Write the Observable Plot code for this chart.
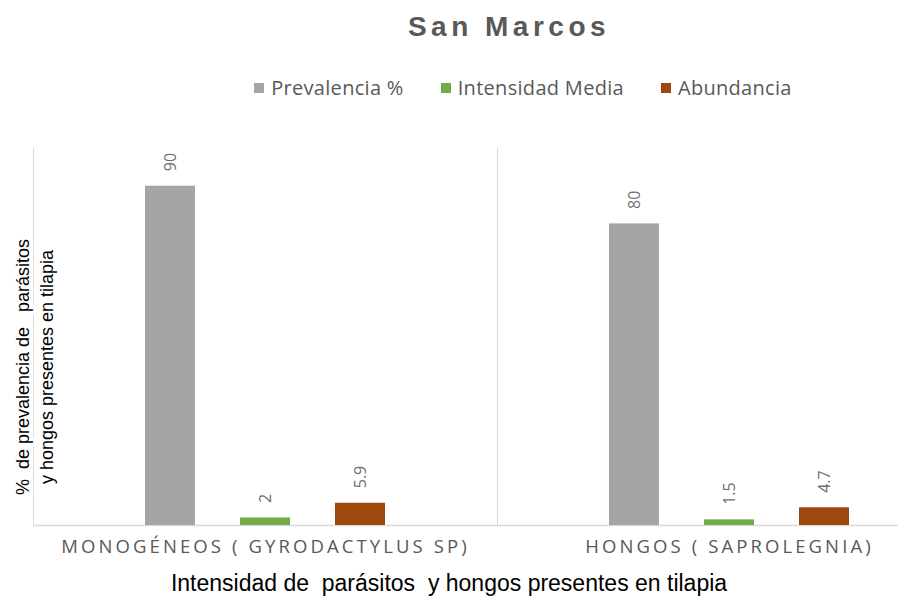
<!DOCTYPE html>
<html>
<head>
<meta charset="utf-8">
<script src="https://cdn.jsdelivr.net/npm/d3@7"></script>
<script src="https://cdn.jsdelivr.net/npm/@observablehq/plot@0.6"></script>
<style>
  html, body { margin: 0; padding: 0; background: #fff; }
  body { width: 898px; height: 598px; overflow: hidden; font-family: "Open Sans", "DejaVu Sans", sans-serif; }
  #header { height: 115px; position: relative; }
  #title { position: absolute; top: 9px; left: 0; width: 898px; padding-left: 120px; box-sizing: border-box;
    text-align: center; font: bold 28px "Liberation Sans", Arial, sans-serif; line-height: 36px; letter-spacing: 4.5px; color: #595959; }
  #legend { position: absolute; top: 76px; left: 0; width: 898px; padding-left: 148px; box-sizing: border-box;
    display: flex; justify-content: center; gap: 37px; font-size: 20px; letter-spacing: 0.3px; color: #595959; line-height: 24px; }
  .item { display: flex; align-items: center; gap: 7px; }
  .sw { width: 10px; height: 10px; display: inline-block; }
  #chart { height: 448px; overflow: hidden; }
  #caption { height: 35px; text-align: center; white-space: pre; color: #000;
    font: 23px "Liberation Sans", Arial, sans-serif; line-height: 40px; }
</style>
</head>
<body>
<div id="header">
  <div id="title">San Marcos</div>
  <div id="legend"></div>
</div>
<div id="chart"></div>
<div id="caption">Intensidad de  parásitos  y hongos presentes en tilapia</div>
<script>
const categories = ["MONOGÉNEOS ( GYRODACTYLUS SP)", "HONGOS ( SAPROLEGNIA)"];
const series = ["Prevalencia %", "Intensidad Media", "Abundancia"];
const prevalencia = [90, 80];
const intensidadMedia = [2, 1.5];
const abundancia = [5.9, 4.7];
const colors = ["#A5A5A5", "#70AD47", "#9E480E"];
const yLabel = "%  de prevalencia de   parásitos\ny hongos presentes en tilapia";

const valuesBySeries = [prevalencia, intensidadMedia, abundancia];
const rows = [];
categories.forEach((c, i) => series.forEach((s, j) => rows.push({cat: c, series: s, value: valuesBySeries[j][i]})));

// legend
const legend = document.getElementById("legend");
series.forEach((s, j) => {
  const it = document.createElement("div");
  it.className = "item";
  const sw = document.createElement("span");
  sw.className = "sw";
  sw.style.background = colors[j];
  const tx = document.createElement("span");
  tx.textContent = s;
  it.appendChild(sw); it.appendChild(tx);
  legend.appendChild(it);
});

const plot = Plot.plot({
  width: 898,
  height: 448,
  marginLeft: 33,
  marginRight: 0,
  marginTop: 33,
  marginBottom: 38,
  style: {background: "transparent", overflow: "hidden"},
  fx: {domain: categories, range: [33, 961], paddingInner: 0, paddingOuter: 0, axis: null},
  x: {domain: series, paddingInner: 0.476, paddingOuter: 1.167, axis: null},
  y: {domain: [0, 100], axis: null},
  color: {domain: series, range: colors},
  marks: [
    Plot.frame({anchor: "left", stroke: "#d9d9d9"}),
    Plot.ruleY([0], {stroke: "#d9d9d9", strokeWidth: 1.5}),
    Plot.barY(rows, {fx: "cat", x: "series", y: "value", fill: "series"}),
    Plot.text(rows, {fx: "cat", x: "series", y: "value", text: d => String(d.value),
      rotate: -90, textAnchor: "start", dy: -15, fill: "#707070", fontSize: 16,
      fontFamily: "Open Sans, DejaVu Sans, sans-serif"}),
    Plot.text(categories, {fx: d => d, text: d => d, frameAnchor: "bottom", dy: 27,
      fill: "#595959", fontSize: 18.5, fontFamily: "Open Sans, DejaVu Sans, sans-serif"}),
    Plot.text([yLabel], {fx: () => categories[0], text: d => d, frameAnchor: "left", textAnchor: "middle",
      dx: 0, dy: 30, rotate: -90, lineHeight: 1.35, fill: "#000", stroke: "white", strokeWidth: 8, paintOrder: "stroke",
      fontSize: 18, fontFamily: "Liberation Sans, Arial, sans-serif"})
  ]
});
document.getElementById("chart").appendChild(plot);
d3.select(plot).selectAll("text")
  .filter(function() { return categories.includes(this.textContent); })
  .style("letter-spacing", "3.1px");
</script>
</body>
</html>
